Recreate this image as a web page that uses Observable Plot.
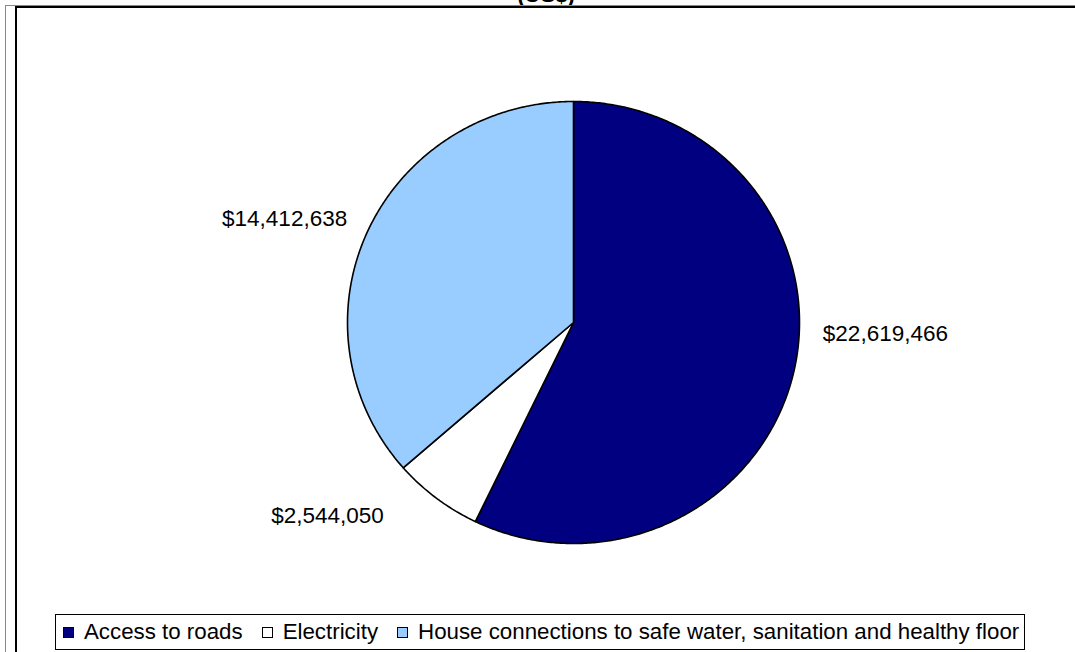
<!DOCTYPE html>
<html>
<head>
<meta charset="utf-8">
<script src="https://cdn.jsdelivr.net/npm/d3@7"></script>
<script src="https://cdn.jsdelivr.net/npm/@observablehq/plot@0.6"></script>
<style>
  html, body { margin: 0; padding: 0; background: #fff; }
  #page { position: relative; width: 1075px; height: 652px; overflow: hidden; background: #fff; font-family: "Liberation Sans", Arial, sans-serif; }
  .ln { position: absolute; }
  #title { position: absolute; top: -18px; left: 0; width: 1092px; text-align: center; font-weight: bold; font-size: 22px; color: #000; }
  #chart { position: absolute; left: 0; top: 0; }
  #legend { position: absolute; left: 55px; top: 614px; width: 970px; height: 36px; border: 1px solid #000; box-sizing: border-box; display: flex; align-items: center; font-size: 22.3px; color: #000; white-space: nowrap; padding-left: 7px; }
  .sw { display: inline-block; width: 9px; height: 9px; border: 1px solid #000; margin-right: 10px; }
  .item { display: flex; align-items: center; margin-left: 19px; }
  .item:first-child { margin-left: 0; }
</style>
</head>
<body>
<div id="page">
  <div id="chart"></div>
  <div id="title">(US$)</div>
  <div class="ln" style="left:5px;top:5px;width:1070px;height:1px;background:#888"></div>
  <div class="ln" style="left:5px;top:5px;width:1px;height:647px;background:#888"></div>
  <div class="ln" style="left:15px;top:6px;width:1060px;height:2px;background:#000"></div>
  <div class="ln" style="left:15px;top:6px;width:2px;height:646px;background:#000"></div>
  <div id="legend"></div>
</div>
<script>
// ---- data ----
const categories = ["Access to roads", "Electricity", "House connections to safe water, sanitation and healthy floor"];
const values = [22619466, 2544050, 14412638];
const colors = ["#000080", "#FFFFFF", "#99CCFF"];

// ---- layout (not data) ----
const labelOffsets = [[7, -43], [-39, 0], [0, -3]];

const slices = categories.map((c, i) => ({category: c, value: values[i], color: colors[i], i}));
const arcs = d3.pie().sort(null).value(d => d.value).startAngle(0).endAngle(2 * Math.PI)(slices);

const pts = [];
for (const a of arcs) {
  const key = a.data.category;
  pts.push({key, color: a.data.color, x: 0, y: 0});
  const n = Math.max(2, Math.ceil((a.endAngle - a.startAngle) / (Math.PI / 360)));
  for (let k = 0; k <= n; k++) {
    const t = a.startAngle + (a.endAngle - a.startAngle) * k / n;
    pts.push({key, color: a.data.color, x: Math.sin(t), y: Math.cos(t)});
  }
  pts.push({key, color: a.data.color, x: 0, y: 0});
}

const labels = arcs.map(a => {
  const m = (a.startAngle + a.endAngle) / 2;
  const r = 1.1;
  const x = Math.sin(m) * r, y = Math.cos(m) * r;
  return {
    x, y,
    text: "$" + d3.format(",")(a.data.value),
    anchor: x >= 0 ? "start" : "end",
    dx: labelOffsets[a.data.i][0],
    dy: labelOffsets[a.data.i][1]
  };
});

const plot = Plot.plot({
  width: 1075,
  height: 610,
  margin: 0,
  style: {background: "transparent", fontFamily: "'Liberation Sans', Arial, sans-serif"},
  x: {domain: [-1, 1], range: [347, 799], axis: null},
  y: {domain: [-1, 1], range: [543, 101], axis: null},
  marks: [
    Plot.line(pts, {x: "x", y: "y", z: "key", fill: "color", stroke: "#000", strokeWidth: 1.6, strokeLinejoin: "round", curve: "linear"}),
    ...labels.map(l => Plot.text([l], {x: "x", y: "y", text: "text", textAnchor: l.anchor, dx: l.dx, dy: l.dy, fontSize: 22.5, fill: "#000"}))
  ]
});
document.getElementById("chart").appendChild(plot);

// legend
const leg = document.getElementById("legend");
categories.forEach((c, i) => {
  const it = document.createElement("span");
  it.className = "item";
  const sw = document.createElement("span");
  sw.className = "sw";
  sw.style.background = colors[i];
  it.appendChild(sw);
  it.appendChild(document.createTextNode(c));
  leg.appendChild(it);
});
</script>
</body>
</html>
